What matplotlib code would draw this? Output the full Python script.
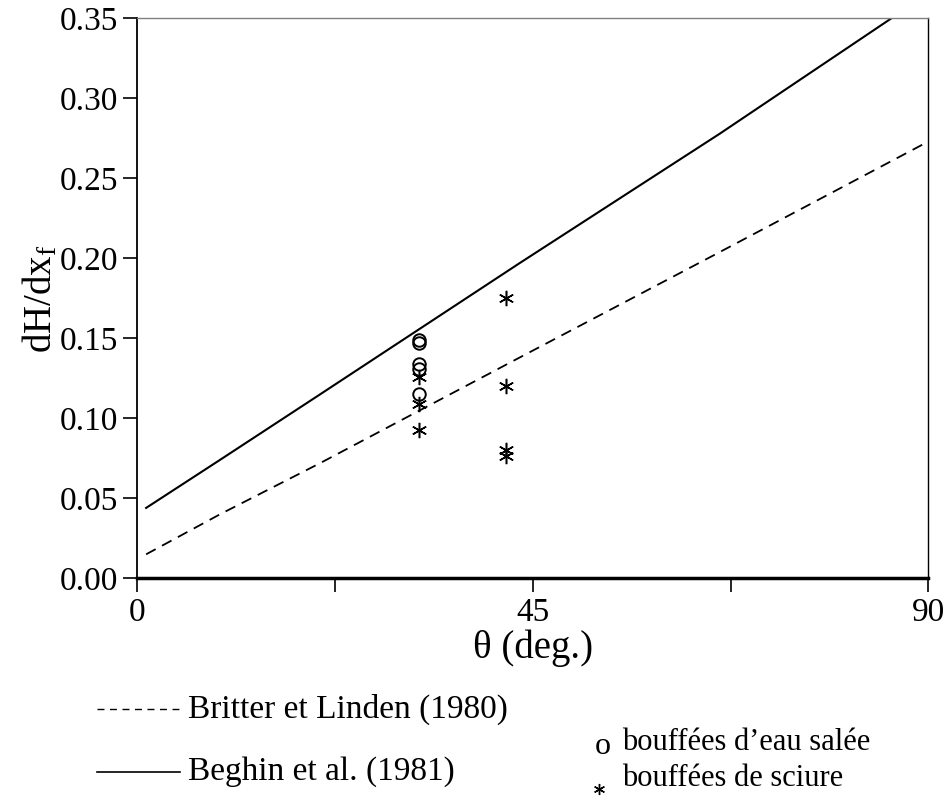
import matplotlib
matplotlib.use("Agg")
import matplotlib.pyplot as plt
from matplotlib.lines import Line2D

plt.rcParams['font.family'] = ['Liberation Serif', 'DejaVu Serif']
plt.rcParams['mathtext.fontset'] = 'custom'
plt.rcParams['mathtext.rm'] = 'Liberation Serif'
plt.rcParams['mathtext.it'] = 'Liberation Serif'

# lines (theta in deg., dH/dx_f)
britter_theta = [1, 9.4, 20.8, 43.5, 66.3, 90]
britter_slope = [0.015, 0.040, 0.072, 0.138, 0.204, 0.273]
beghin_theta = [1, 9.4, 20.8, 43.5, 66.3, 85.8]
beghin_slope = [0.044, 0.074, 0.115, 0.197, 0.278, 0.35]

# experiments
salt_theta = [32, 32, 32, 32, 32]
salt_slope = [0.149, 0.147, 0.134, 0.131, 0.115]
sawdust_theta = [32, 32, 32, 42, 42, 42, 42]
sawdust_slope = [0.126, 0.109, 0.093, 0.175, 0.120, 0.080, 0.0765]

x_ticks = [0, 45, 90]
x_minor = [22.5, 67.5]
y_ticks = [0.0, 0.05, 0.10, 0.15, 0.20, 0.25, 0.30, 0.35]

fig = plt.figure(figsize=(9.53, 8.0), dpi=100)
ax = fig.add_axes([0.1441, 0.2771, 0.8300, 0.7000])

ax.plot(britter_theta, britter_slope, color='black', lw=1.3, ls=(0, (6, 4)))
ax.plot(beghin_theta, beghin_slope, color='black', lw=1.5)
ax.plot(salt_theta, salt_slope, ls='none', marker='o', mfc='none', mec='black',
        ms=9, mew=1.4)
ax.plot(sawdust_theta, sawdust_slope, ls='none', marker=(6, 2, 0), color='black',
        ms=11, mew=1.1)

ax.set_xlim(0, 90)
ax.set_ylim(0, 0.35)
ax.set_xticks(x_ticks)
ax.set_xticks(x_minor, minor=True)
ax.set_yticks(y_ticks)
ax.set_yticklabels([f"{v:.2f}" for v in y_ticks])
ax.tick_params(axis='both', which='both', direction='out', length=10, width=1.2,
               labelsize=24, colors='black')
ax.tick_params(axis='x', pad=4)
ax.tick_params(axis='y', pad=4)

ax.spines['bottom'].set_linewidth(2.5)
ax.spines['left'].set_linewidth(1.3)
ax.spines['top'].set_color('gray')
ax.spines['top'].set_linewidth(1.0)
ax.spines['right'].set_linewidth(1.0)

ax.set_xlabel('\u03b8 (deg.)', fontsize=28, labelpad=1)
ax.set_ylabel(r'dH/dx$_\mathrm{f}$', fontsize=28)
ax.yaxis.set_label_coords(-0.097, 0.5)

# hand made legend below the axes
fig.add_artist(Line2D([97 / 953, 180 / 953], [1 - 709 / 800, 1 - 709 / 800],
                      color='black', lw=1.0, ls=(0, (5, 4))))
fig.text(188 / 953, 1 - 709 / 800, 'Britter et Linden (1980)', fontsize=24,
         va='center', ha='left')
fig.add_artist(Line2D([97 / 953, 180 / 953], [1 - 772 / 800, 1 - 772 / 800],
                      color='black', lw=1.2))
fig.text(188 / 953, 1 - 772 / 800, 'Beghin et al. (1981)', fontsize=24,
         va='center', ha='left')
fig.text(595 / 953, 1 - 747 / 800, 'o', fontsize=23, va='center', ha='left')
fig.text(622 / 953, 1 - 743 / 800, 'bouffées d\u2019eau salée', fontsize=22,
         va='center', ha='left')
fig.add_artist(Line2D([599 / 953], [1 - 789 / 800], ls='none', marker=(6, 2, 0),
                      color='black', ms=8, mew=1.0))
fig.text(622 / 953, 1 - 779 / 800, 'bouffées de sciure', fontsize=22,
         va='center', ha='left')

fig.savefig('out.png', dpi=100)
